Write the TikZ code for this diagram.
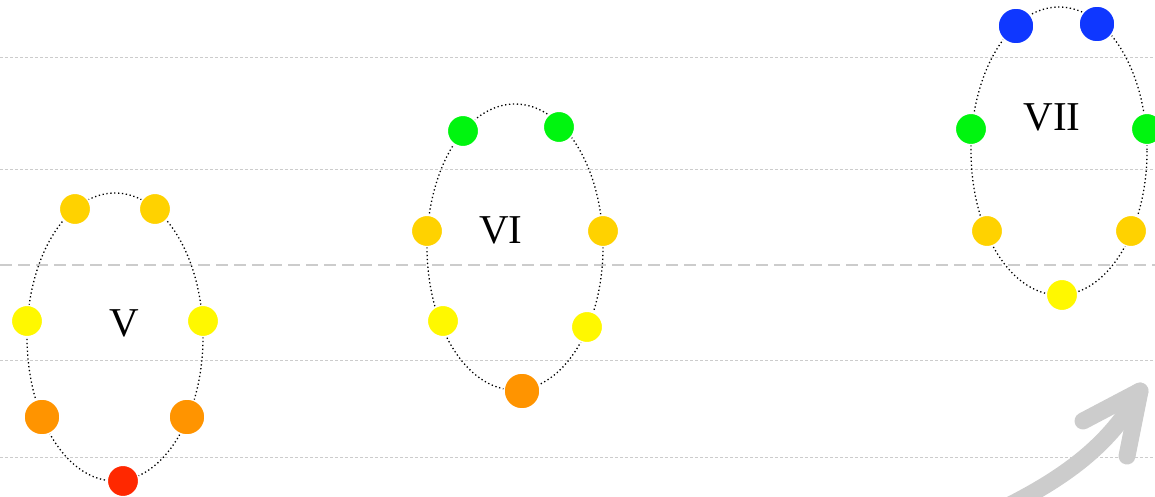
\documentclass[tikz,border=0pt]{standalone}
\usepackage{fontspec}
\setmainfont{Liberation Serif}
\definecolor{cgold}{RGB}{255,210,0}
\definecolor{cyel}{RGB}{255,248,0}
\definecolor{corange}{RGB}{255,148,0}
\definecolor{cred}{RGB}{255,40,0}
\definecolor{cgreen}{RGB}{0,245,15}
\definecolor{cblue}{RGB}{15,55,255}
\definecolor{cline}{RGB}{204,204,204}
\tikzset{
  guide/.style={draw=cline, line width=0.8pt, dash pattern=on 3pt off 2pt},
  midguide/.style={draw=cline, line width=2pt, dash pattern=on 12pt off 6pt},
  orbit/.style={draw=black, line width=1.3pt, dash pattern=on 1.3pt off 2.6pt},
  dot/.style={circle, inner sep=0pt, minimum size=31.5pt, draw=white, line width=1.5pt},
  bigdot/.style={circle, inner sep=0pt, minimum size=36pt, draw=white, line width=1.5pt},
  lbl/.style={font=\fontsize{41}{41}\selectfont, inner sep=0pt},
  bigarrow/.style={draw=cline, line width=17pt, line cap=round, line join=round}
}
\begin{document}
\begin{tikzpicture}[x=1pt,y=-1pt]
\useasboundingbox (0,0) rectangle (1155,497);
\clip (0,0) rectangle (1155,497);
% guide lines
\foreach \yy in {57,169,360,457} \draw[guide] (0,\yy) -- (1155,\yy);
\draw[midguide] (0,265) -- (1155,265);
% orbits
\draw[orbit] (115,337) ellipse [x radius=88, y radius=144];
\draw[orbit] (515,247) ellipse [x radius=88, y radius=143];
\draw[orbit] (1059,151) ellipse [x radius=88, y radius=144];
% group V
\node[dot, fill=cgold] (v1) at (75,209) {};
\node[dot, fill=cgold] (v2) at (155,209) {};
\node[dot, fill=cyel] (v3) at (27,321) {};
\node[dot, fill=cyel] (v4) at (203,321) {};
\node[bigdot, fill=corange] (v5) at (42,417) {};
\node[bigdot, fill=corange] (v6) at (187,417) {};
\node[dot, fill=cred] (v7) at (123,481) {};
\node[lbl] (lv) at (124,323) {V};
% group VI
\node[dot, fill=cgreen] (w1) at (463,131) {};
\node[dot, fill=cgreen] (w2) at (559,127) {};
\node[dot, fill=cgold] (w3) at (427,231) {};
\node[dot, fill=cgold] (w4) at (603,231) {};
\node[dot, fill=cyel] (w5) at (443,321) {};
\node[dot, fill=cyel] (w6) at (587,327) {};
\node[bigdot, fill=corange] (w7) at (522,391) {};
\node[lbl] (lw) at (501,230) {VI};
% group VII
\node[bigdot, fill=cblue] (u1) at (1016,26) {};
\node[bigdot, fill=cblue] (u2) at (1097,24) {};
\node[dot, fill=cgreen] (u3) at (971,129) {};
\node[dot, fill=cgreen] (u4) at (1147,129) {};
\node[dot, fill=cgold] (u5) at (987,231) {};
\node[dot, fill=cgold] (u6) at (1131,231) {};
\node[dot, fill=cyel] (u7) at (1062,295) {};
\node[lbl] (lu) at (1052,117) {VII};
% arrow
\coordinate (atail) at (1000,510);
\coordinate (atip) at (1140,391);
\coordinate (aarm1) at (1083,421);
\coordinate (aarm2) at (1127,456);
\draw[bigarrow] (atail) .. controls (1065,478) and (1110,445) .. (atip);
\draw[bigarrow] (aarm1) -- (atip) -- (aarm2);
\end{tikzpicture}
\end{document}
